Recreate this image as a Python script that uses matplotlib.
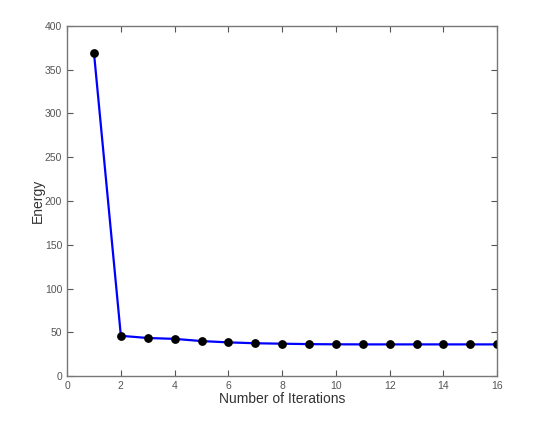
import matplotlib
matplotlib.use("Agg")
import matplotlib.pyplot as plt

iterations = list(range(1, 17))
energy = [369, 46, 43.5, 42.5, 40, 38.5, 37.5, 37, 36.5, 36.3, 36.2, 36.2, 36.2, 36.2, 36.2, 36.2]
x_ticks = [0, 2, 4, 6, 8, 10, 12, 14, 16]
y_ticks = [0, 50, 100, 150, 200, 250, 300, 350, 400]

plt.rcParams['font.family'] = ['Liberation Sans', 'DejaVu Sans']
fig = plt.figure(figsize=(5.5, 4.24), dpi=100)
ax = fig.add_axes([0.122, 0.113, 0.782, 0.826])
ax.plot(iterations, energy, color='#0000ff', linewidth=1.6, marker='o',
        markersize=5.3, markerfacecolor='black', markeredgecolor='black')
ax.set_xlim(0, 16)
ax.set_ylim(0, 400)
ax.set_xticks(x_ticks)
ax.set_yticks(y_ticks)
ax.tick_params(direction='in', top=True, right=True, labelsize=7.5,
               colors='#555555', length=4, width=0.8)
for s in ax.spines.values():
    s.set_color('#777777')
    s.set_linewidth(1)
ax.set_xlabel('Number of Iterations', fontsize=10, color='#333333', labelpad=1)
ax.set_ylabel('Energy', fontsize=10, color='#333333', labelpad=0)
fig.savefig('out.png', dpi=100)
